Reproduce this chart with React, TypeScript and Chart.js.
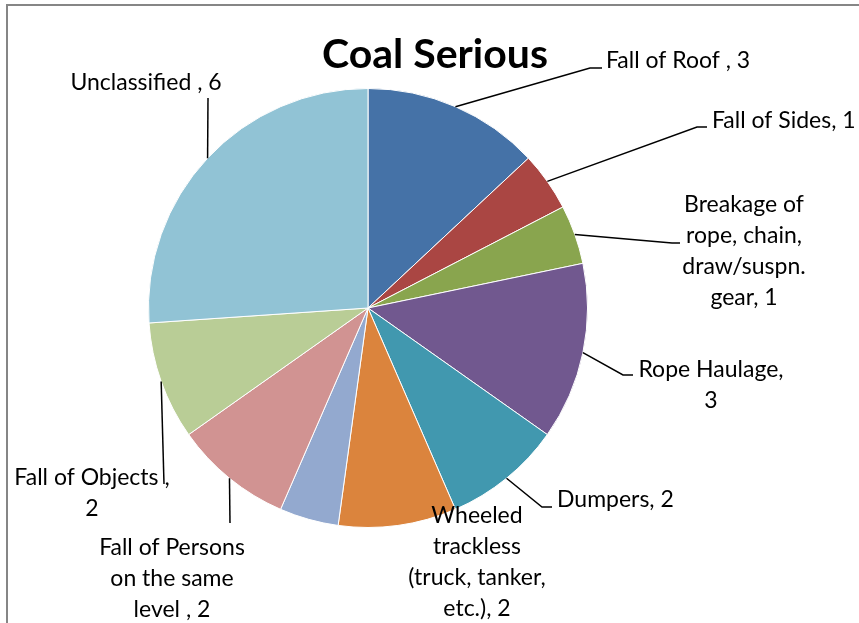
import React, { useEffect, useRef } from "react";
import { Chart, registerables } from "chart.js";

Chart.register(...registerables);

const TITLE = "Coal Serious";
const categories = [
  "Fall of Roof ",
  "Fall of Sides",
  "Breakage of rope, chain, draw/suspn. gear",
  "Rope Haulage",
  "Dumpers",
  "Wheeled trackless (truck, tanker, etc.)",
  "Other",
  "Fall of Persons on the same level ",
  "Fall of Objects ",
  "Unclassified ",
];
const values = [3, 1, 1, 3, 2, 2, 1, 2, 2, 6];
const colors = [
  "#4572A7", "#AA4643", "#89A54E", "#71588F", "#4198AF",
  "#DB843D", "#93A9CF", "#D19392", "#B9CD96", "#91C3D5",
];

// Label layout (annotation positions only): elbow / end of leader, text anchor, wrap width
type Lay = { elbow?: [number, number]; end?: [number, number]; tx: number; ty: number; align: CanvasTextAlign; wrap: number } | null;
const labelLayout: Lay[] = [
  { elbow: [590, 68], end: [602, 68], tx: 606, ty: 61, align: "left", wrap: 400 },
  { elbow: [697, 127], end: [707, 127], tx: 712, ty: 121, align: "left", wrap: 400 },
  { elbow: [672, 243], end: [680, 243], tx: 744, ty: 205, align: "center", wrap: 135 },
  { elbow: [623, 375], end: [633, 375], tx: 711, ty: 370, align: "center", wrap: 156 },
  { elbow: [542, 507], end: [552, 507], tx: 557, ty: 500, align: "left", wrap: 400 },
  { tx: 477, ty: 516, align: "center", wrap: 150 },
  null,
  { elbow: [230, 523], end: [230, 523], tx: 172, ty: 548, align: "center", wrap: 152 },
  { elbow: [164, 484], end: [164, 484], tx: 92, ty: 478, align: "center", wrap: 162 },
  { elbow: [208, 98], end: [208, 98], tx: 146, ty: 83, align: "center", wrap: 400 },
];

const LABEL_FONT = "23px Lato, 'Open Sans', sans-serif";
const LINE_H = 30.8;

function wrapText(ctx: CanvasRenderingContext2D, text: string, width: number): string[] {
  const words = text.split(" ");
  const lines: string[] = [];
  let cur = "";
  for (let i = 0; i < words.length; i++) {
    const w = words[i];
    const test = cur ? cur + " " + w : w;
    if (cur && ctx.measureText(test.trimEnd()).width > width) {
      lines.push(cur);
      cur = w;
    } else {
      cur = test;
    }
  }
  if (cur) lines.push(cur);
  return lines;
}

const labelsPlugin = {
  id: "pieLabels",
  beforeDraw(chart: any) {
    const ctx = chart.ctx as CanvasRenderingContext2D;
    ctx.save();
    ctx.fillStyle = "#ffffff";
    ctx.fillRect(0, 0, chart.width, chart.height);
    ctx.strokeStyle = "#868686";
    ctx.lineWidth = 2;
    ctx.beginPath();
    ctx.moveTo(7, chart.height + 5);
    ctx.lineTo(7, 5);
    ctx.lineTo(chart.width + 5, 5);
    ctx.stroke();
    ctx.restore();
  },
  afterDraw(chart: any) {
    const ctx = chart.ctx as CanvasRenderingContext2D;
    const meta = chart.getDatasetMeta(0);
    ctx.save();
    // title
    ctx.fillStyle = "#000";
    ctx.font = "bold 41px Lato, 'Open Sans', sans-serif";
    ctx.textAlign = "center";
    ctx.textBaseline = "middle";
    ctx.fillText(TITLE, 435, 55);

    ctx.font = LABEL_FONT;
    meta.data.forEach((arc: any, i: number) => {
      const lay = labelLayout[i];
      if (!lay) return;
      const p = arc.getProps(["x", "y", "startAngle", "endAngle", "outerRadius"], true);
      const mid = (p.startAngle + p.endAngle) / 2;
      const sx = p.x + Math.cos(mid) * p.outerRadius;
      const sy = p.y + Math.sin(mid) * p.outerRadius;
      if (lay.elbow && lay.end) {
        ctx.strokeStyle = "#000";
        ctx.lineWidth = 1.5;
        ctx.beginPath();
        ctx.moveTo(sx, sy);
        ctx.lineTo(lay.elbow[0], lay.elbow[1]);
        ctx.lineTo(lay.end[0], lay.end[1]);
        ctx.stroke();
      }
      const text = categories[i] + ", " + values[i];
      const lines = wrapText(ctx, text, lay.wrap);
      ctx.textAlign = lay.align;
      ctx.textBaseline = "middle";
      ctx.fillStyle = "#000";
      lines.forEach((ln, k) => ctx.fillText(ln, lay.tx, lay.ty + k * LINE_H));
    });
    ctx.restore();
  },
};

export default function App() {
  const ref = useRef<HTMLCanvasElement>(null);
  useEffect(() => {
    document.body.style.margin = "0";
    document.body.style.overflow = "hidden";
    const chart = new Chart(ref.current!, {
      type: "pie",
      data: {
        labels: categories,
        datasets: [
          {
            data: values,
            backgroundColor: colors,
            borderColor: "#ffffff",
            borderWidth: 1,
          },
        ],
      },
      options: {
        responsive: false,
        animation: false,
        layout: { padding: { left: 148, right: 271, top: 88, bottom: 95 } },
        plugins: {
          legend: { display: false },
          title: { display: false },
          tooltip: { enabled: false },
        },
      },
      plugins: [labelsPlugin],
    });
    return () => chart.destroy();
  }, []);
  return <canvas ref={ref} width={859} height={623} style={{ display: "block" }} />;
}
